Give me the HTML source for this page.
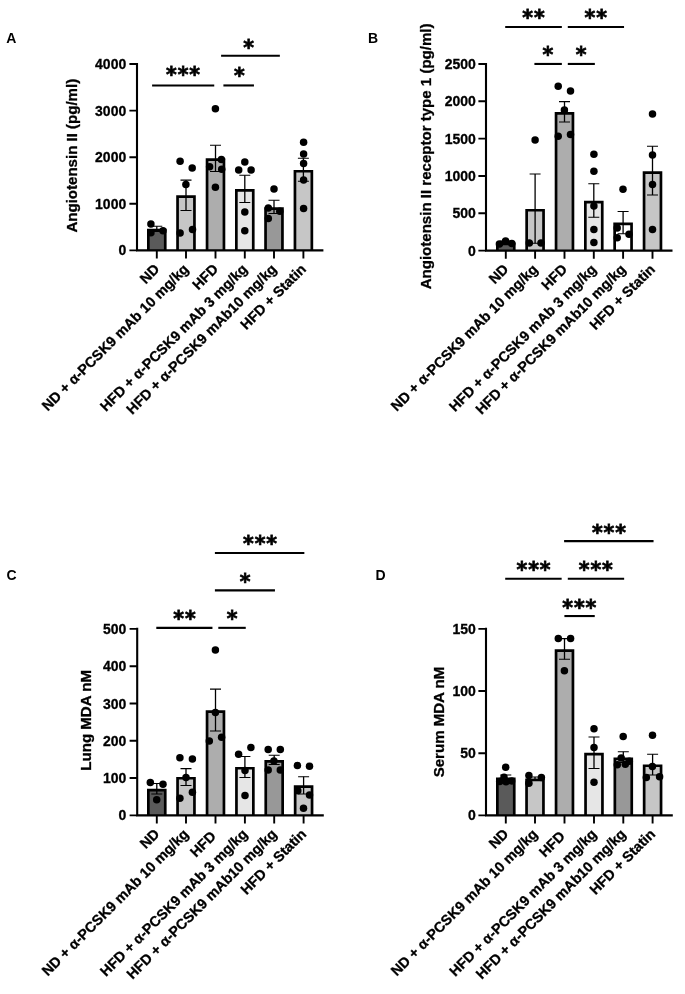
<!DOCTYPE html>
<html lang="en">
<head>
<meta charset="utf-8">
<title>Figure</title>
<style>
html,body{margin:0;padding:0;background:#fff;}
body{width:685px;height:994px;overflow:hidden;}
svg{display:block;}
text{font-family:'Liberation Sans', Arial, Helvetica, sans-serif;font-weight:bold;fill:#000;stroke:#000;stroke-width:0.3px;}
.pl{font-size:14px;stroke:none;}
.tk{font-size:14.0px;text-anchor:end;}
.ti{font-size:15.05px;text-anchor:middle;}
.xl{font-size:14.35px;text-anchor:end;}
.st{font-family:'DejaVu Sans','Liberation Sans',sans-serif;font-size:22.0px;text-anchor:middle;letter-spacing:0.97px;stroke:#000;stroke-width:0.8px;stroke-linejoin:miter;}
.bar{stroke:#000;stroke-width:2.7;stroke-linejoin:miter;}
.err{stroke:#000;stroke-width:1.3;fill:none;}
.cap{stroke:#000;stroke-width:1.05;fill:none;}
.axis{stroke:#000;stroke-width:2.1;fill:none;}
.tick{stroke:#000;stroke-width:1.9000000000000001;fill:none;}
.sig{stroke:#000;stroke-width:2.1;fill:none;}
circle{fill:#000;}
</style>
</head>
<body>
<svg width="685" height="994" viewBox="0 0 685 994">
<rect x="0" y="0" width="685" height="994" fill="#ffffff"/>
<g class="panel">
<text class="pl" x="6.2" y="43.2">A</text>
<path class="bar" d="M148.35 250.4V230.15H165.25V250.4" fill="#5a5a5a"/>
<path class="bar" d="M177.55 250.4V196.55H194.45V250.4" fill="#c6c6c6"/>
<path class="bar" d="M207.05 250.4V159.55H223.95V250.4" fill="#adadad"/>
<path class="bar" d="M236.35 250.4V190.35H253.25V250.4" fill="#e6e6e6"/>
<path class="bar" d="M265.55 250.4V208.55H282.45V250.4" fill="#989898"/>
<path class="bar" d="M294.95 250.4V171.25H311.85V250.4" fill="#c6c6c6"/>
<path class="err" d="M156.8 226.3V231.5"/><path class="cap" d="M151.3 226.3H162.3M151.3 231.5H162.3"/>
<path class="err" d="M186 180.1V210.5"/><path class="cap" d="M180.5 180.1H191.5M180.5 210.5H191.5"/>
<path class="err" d="M215.5 145.3V171.4"/><path class="cap" d="M210 145.3H221M210 171.4H221"/>
<path class="err" d="M244.8 175.2V202.5"/><path class="cap" d="M239.3 175.2H250.3M239.3 202.5H250.3"/>
<path class="err" d="M274 200.3V213.4"/><path class="cap" d="M268.5 200.3H279.5M268.5 213.4H279.5"/>
<path class="err" d="M303.4 158.2V181.3"/><path class="cap" d="M297.9 158.2H308.9M297.9 181.3H308.9"/>
<circle cx="150.9" cy="223.9" r="3.75"/>
<circle cx="163" cy="230.7" r="3.75"/>
<circle cx="150.9" cy="232.7" r="3.75"/>
<circle cx="180.1" cy="161.3" r="3.75"/>
<circle cx="192.2" cy="167.9" r="3.75"/>
<circle cx="185.9" cy="184.5" r="3.75"/>
<circle cx="192.5" cy="229.5" r="3.75"/>
<circle cx="180.1" cy="233.1" r="3.75"/>
<circle cx="215.4" cy="108.7" r="3.75"/>
<circle cx="221.4" cy="159.4" r="3.75"/>
<circle cx="209.6" cy="166.7" r="3.75"/>
<circle cx="221.7" cy="169.3" r="3.75"/>
<circle cx="215.4" cy="187.2" r="3.75"/>
<circle cx="244.8" cy="162" r="3.75"/>
<circle cx="238.7" cy="169.9" r="3.75"/>
<circle cx="251.1" cy="169.9" r="3.75"/>
<circle cx="244.8" cy="212" r="3.75"/>
<circle cx="244.8" cy="230.7" r="3.75"/>
<circle cx="274" cy="189" r="3.75"/>
<circle cx="268.3" cy="208" r="3.75"/>
<circle cx="279.8" cy="211.2" r="3.75"/>
<circle cx="268.3" cy="218.5" r="3.75"/>
<circle cx="303.6" cy="142.3" r="3.75"/>
<circle cx="303.6" cy="153.9" r="3.75"/>
<circle cx="303.6" cy="163.4" r="3.75"/>
<circle cx="303.6" cy="179.9" r="3.75"/>
<circle cx="303.6" cy="208.6" r="3.75"/>
<path class="axis" d="M137 62.95V250.4M135.95 250.4H323.4"/>
<text class="tk" transform="translate(126.2 255.44) scale(1 1.025)">0</text>
<text class="tk" transform="translate(126.2 208.84) scale(1 1.025)">1000</text>
<text class="tk" transform="translate(126.2 162.24) scale(1 1.025)">2000</text>
<text class="tk" transform="translate(126.2 115.64) scale(1 1.025)">3000</text>
<text class="tk" transform="translate(126.2 69.04) scale(1 1.025)">4000</text>
<path class="tick" d="M129.4 250.4H137M129.4 203.8H137M129.4 157.2H137M129.4 110.6H137M129.4 64H137M156.8 250.4V258.6M186 250.4V258.6M215.5 250.4V258.6M244.8 250.4V258.6M274 250.4V258.6M303.4 250.4V258.6"/>
<text class="ti" transform="translate(76.5 155.7) rotate(-90)">Angiotensin II (pg/ml)</text>
<text class="xl" transform="translate(160.3 270) rotate(-45)">ND</text>
<text class="xl" transform="translate(189.5 270) rotate(-45)">ND + α-PCSK9 mAb 10 mg/kg</text>
<text class="xl" transform="translate(219 270) rotate(-45)">HFD</text>
<text class="xl" transform="translate(248.3 270) rotate(-45)">HFD + α-PCSK9 mAb 3 mg/kg</text>
<text class="xl" transform="translate(277.5 270) rotate(-45)">HFD + α-PCSK9 mAb10 mg/kg</text>
<text class="xl" transform="translate(306.9 270) rotate(-45)">HFD + Statin</text>
<path class="sig" d="M152.1 85.45H214.25"/>
<text class="st" transform="translate(183.55 82.22) scale(0.933 1)">***</text>
<path class="sig" d="M223.4 85.45H253.95"/>
<text class="st" transform="translate(239.75 82.72) scale(0.933 1)">*</text>
<path class="sig" d="M221.1 55.75H279.85"/>
<text class="st" transform="translate(249.05 54.82) scale(0.933 1)">*</text>
</g>
<g class="panel">
<text class="pl" x="368" y="43.2">B</text>
<path class="bar" d="M497.35 250.6V243.85H514.25V250.6" fill="#5a5a5a"/>
<path class="bar" d="M526.65 250.6V210.25H543.55V250.6" fill="#c6c6c6"/>
<path class="bar" d="M556.05 250.6V113.35H572.95V250.6" fill="#adadad"/>
<path class="bar" d="M585.35 250.6V202.15H602.25V250.6" fill="#e6e6e6"/>
<path class="bar" d="M614.65 250.6V223.85H631.55V250.6" fill="#ffffff"/>
<path class="bar" d="M644.05 250.6V172.65H660.95V250.6" fill="#c6c6c6"/>
<path class="err" d="M505.8 241V244.5"/><path class="cap" d="M500.3 241H511.3M500.3 244.5H511.3"/>
<path class="err" d="M535.1 174V243.3"/><path class="cap" d="M529.6 174H540.6M529.6 243.3H540.6"/>
<path class="err" d="M564.5 101.6V121.9"/><path class="cap" d="M559 101.6H570M559 121.9H570"/>
<path class="err" d="M593.8 183.7V217.3"/><path class="cap" d="M588.3 183.7H599.3M588.3 217.3H599.3"/>
<path class="err" d="M623.1 211.5V233.8"/><path class="cap" d="M617.6 211.5H628.6M617.6 233.8H628.6"/>
<path class="err" d="M652.5 146.2V195"/><path class="cap" d="M647 146.2H658M647 195H658"/>
<circle cx="499.4" cy="244.1" r="3.75"/>
<circle cx="505.6" cy="241" r="3.75"/>
<circle cx="511.8" cy="243.5" r="3.75"/>
<circle cx="535.1" cy="140" r="3.75"/>
<circle cx="529.3" cy="243.1" r="3.75"/>
<circle cx="541" cy="243.1" r="3.75"/>
<circle cx="558.2" cy="86.2" r="3.75"/>
<circle cx="570.5" cy="90.9" r="3.75"/>
<circle cx="564.4" cy="110.1" r="3.75"/>
<circle cx="558.2" cy="136.3" r="3.75"/>
<circle cx="570.5" cy="134.6" r="3.75"/>
<circle cx="593.9" cy="154.2" r="3.75"/>
<circle cx="593.9" cy="171.3" r="3.75"/>
<circle cx="593.9" cy="206" r="3.75"/>
<circle cx="593.9" cy="229.5" r="3.75"/>
<circle cx="593.9" cy="242.5" r="3.75"/>
<circle cx="623" cy="189.3" r="3.75"/>
<circle cx="617.2" cy="228" r="3.75"/>
<circle cx="629" cy="234.2" r="3.75"/>
<circle cx="617.2" cy="237.7" r="3.75"/>
<circle cx="652.5" cy="114" r="3.75"/>
<circle cx="652.5" cy="155" r="3.75"/>
<circle cx="652.5" cy="184.5" r="3.75"/>
<circle cx="652.5" cy="229.5" r="3.75"/>
<path class="axis" d="M486 62.95V250.6M484.95 250.6H672.5"/>
<text class="tk" transform="translate(475.9 255.64) scale(1 1.025)">0</text>
<text class="tk" transform="translate(475.9 218.32) scale(1 1.025)">500</text>
<text class="tk" transform="translate(475.9 181) scale(1 1.025)">1000</text>
<text class="tk" transform="translate(475.9 143.68) scale(1 1.025)">1500</text>
<text class="tk" transform="translate(475.9 106.36) scale(1 1.025)">2000</text>
<text class="tk" transform="translate(475.9 69.04) scale(1 1.025)">2500</text>
<path class="tick" d="M478.4 250.6H486M478.4 213.28H486M478.4 175.96H486M478.4 138.64H486M478.4 101.32H486M478.4 64H486M505.8 250.6V258.8M535.1 250.6V258.8M564.5 250.6V258.8M593.8 250.6V258.8M623.1 250.6V258.8M652.5 250.6V258.8"/>
<text class="ti" transform="translate(431.3 156.4) rotate(-90)">Angiotensin II receptor type 1 (pg/ml)</text>
<text class="xl" transform="translate(509.3 270.2) rotate(-45)">ND</text>
<text class="xl" transform="translate(538.6 270.2) rotate(-45)">ND + α-PCSK9 mAb 10 mg/kg</text>
<text class="xl" transform="translate(568 270.2) rotate(-45)">HFD</text>
<text class="xl" transform="translate(597.3 270.2) rotate(-45)">HFD + α-PCSK9 mAb 3 mg/kg</text>
<text class="xl" transform="translate(626.6 270.2) rotate(-45)">HFD + α-PCSK9 mAb10 mg/kg</text>
<text class="xl" transform="translate(656 270.2) rotate(-45)">HFD + Statin</text>
<path class="sig" d="M505.2 27.05H561.85"/>
<text class="st" transform="translate(533.95 25.02) scale(0.933 1)">**</text>
<path class="sig" d="M567.8 27.05H624.05"/>
<text class="st" transform="translate(596.15 25.02) scale(0.933 1)">**</text>
<path class="sig" d="M534.4 63.95H561.85"/>
<text class="st" transform="translate(548.35 62.32) scale(0.933 1)">*</text>
<path class="sig" d="M567.8 63.95H594.85"/>
<text class="st" transform="translate(581.55 62.32) scale(0.933 1)">*</text>
</g>
<g class="panel">
<text class="pl" x="6.4" y="579.6">C</text>
<path class="bar" d="M148.35 815.35V790.05H165.25V815.35" fill="#5a5a5a"/>
<path class="bar" d="M177.55 815.35V778.25H194.45V815.35" fill="#c6c6c6"/>
<path class="bar" d="M207.05 815.35V711.65H223.95V815.35" fill="#adadad"/>
<path class="bar" d="M236.45 815.35V768.25H253.35V815.35" fill="#e6e6e6"/>
<path class="bar" d="M265.75 815.35V761.35H282.65V815.35" fill="#989898"/>
<path class="bar" d="M295.15 815.35V786.65H312.05V815.35" fill="#c6c6c6"/>
<path class="err" d="M156.8 783.4V794"/><path class="cap" d="M151.3 783.4H162.3M151.3 794H162.3"/>
<path class="err" d="M186 768.6V785.5"/><path class="cap" d="M180.5 768.6H191.5M180.5 785.5H191.5"/>
<path class="err" d="M215.5 689.1V731"/><path class="cap" d="M210 689.1H221M210 731H221"/>
<path class="err" d="M244.9 756.4V777.5"/><path class="cap" d="M239.4 756.4H250.4M239.4 777.5H250.4"/>
<path class="err" d="M274.2 755.3V764.4"/><path class="cap" d="M268.7 755.3H279.7M268.7 764.4H279.7"/>
<path class="err" d="M303.6 776.7V794"/><path class="cap" d="M298.1 776.7H309.1M298.1 794H309.1"/>
<circle cx="150.3" cy="782.4" r="3.75"/>
<circle cx="163" cy="784.3" r="3.75"/>
<circle cx="156.7" cy="799.7" r="3.75"/>
<circle cx="179.9" cy="757.8" r="3.75"/>
<circle cx="192.4" cy="758.9" r="3.75"/>
<circle cx="186" cy="777.5" r="3.75"/>
<circle cx="192.4" cy="792.3" r="3.75"/>
<circle cx="179.9" cy="798.2" r="3.75"/>
<circle cx="215.4" cy="650" r="3.75"/>
<circle cx="215.4" cy="712.4" r="3.75"/>
<circle cx="221.6" cy="737.3" r="3.75"/>
<circle cx="209.3" cy="740.9" r="3.75"/>
<circle cx="250.9" cy="747.5" r="3.75"/>
<circle cx="238.6" cy="754.2" r="3.75"/>
<circle cx="245" cy="770.5" r="3.75"/>
<circle cx="245" cy="795.5" r="3.75"/>
<circle cx="268.2" cy="749.4" r="3.75"/>
<circle cx="280.3" cy="749.6" r="3.75"/>
<circle cx="273.9" cy="761" r="3.75"/>
<circle cx="268.2" cy="770.1" r="3.75"/>
<circle cx="280.3" cy="770.1" r="3.75"/>
<circle cx="297.4" cy="765.5" r="3.75"/>
<circle cx="309.5" cy="766.3" r="3.75"/>
<circle cx="297.8" cy="790.8" r="3.75"/>
<circle cx="309.5" cy="795.1" r="3.75"/>
<circle cx="303.5" cy="808.2" r="3.75"/>
<path class="axis" d="M137.2 627.85V815.35M136.15 815.35H323.8"/>
<text class="tk" transform="translate(126.4 820.39) scale(1 1.025)">0</text>
<text class="tk" transform="translate(126.4 783.1) scale(1 1.025)">100</text>
<text class="tk" transform="translate(126.4 745.81) scale(1 1.025)">200</text>
<text class="tk" transform="translate(126.4 708.52) scale(1 1.025)">300</text>
<text class="tk" transform="translate(126.4 671.23) scale(1 1.025)">400</text>
<text class="tk" transform="translate(126.4 633.94) scale(1 1.025)">500</text>
<path class="tick" d="M129.6 815.35H137.2M129.6 778.06H137.2M129.6 740.77H137.2M129.6 703.48H137.2M129.6 666.19H137.2M129.6 628.9H137.2M156.8 815.35V823.55M186 815.35V823.55M215.5 815.35V823.55M244.9 815.35V823.55M274.2 815.35V823.55M303.6 815.35V823.55"/>
<text class="ti" transform="translate(90.7 720.35) rotate(-90)">Lung MDA nM</text>
<text class="xl" transform="translate(160.3 834.95) rotate(-45)">ND</text>
<text class="xl" transform="translate(189.5 834.95) rotate(-45)">ND + α-PCSK9 mAb 10 mg/kg</text>
<text class="xl" transform="translate(216.8 837.15) rotate(-45)">HFD</text>
<text class="xl" transform="translate(248.4 834.95) rotate(-45)">HFD + α-PCSK9 mAb 3 mg/kg</text>
<text class="xl" transform="translate(277.7 834.95) rotate(-45)">HFD + α-PCSK9 mAb10 mg/kg</text>
<text class="xl" transform="translate(307.1 834.95) rotate(-45)">HFD + Statin</text>
<path class="sig" d="M214.9 552.95H304.35"/>
<text class="st" transform="translate(260.45 551.32) scale(0.933 1)">***</text>
<path class="sig" d="M214.9 590.35H274.95"/>
<text class="st" transform="translate(245.55 588.82) scale(0.933 1)">*</text>
<path class="sig" d="M156.3 627.85H212.45"/>
<text class="st" transform="translate(184.95 626.42) scale(0.933 1)">**</text>
<path class="sig" d="M218.3 627.85H245.75"/>
<text class="st" transform="translate(232.45 626.42) scale(0.933 1)">*</text>
</g>
<g class="panel">
<text class="pl" x="375.6" y="579.6">D</text>
<path class="bar" d="M497.35 815.35V778.85H514.25V815.35" fill="#5a5a5a"/>
<path class="bar" d="M526.55 815.35V779.95H543.45V815.35" fill="#c6c6c6"/>
<path class="bar" d="M556.05 815.35V650.55H572.95V815.35" fill="#adadad"/>
<path class="bar" d="M585.55 815.35V754.15H602.45V815.35" fill="#e6e6e6"/>
<path class="bar" d="M614.85 815.35V758.75H631.75V815.35" fill="#989898"/>
<path class="bar" d="M644.15 815.35V765.75H661.05V815.35" fill="#c6c6c6"/>
<path class="err" d="M505.8 775V780"/><path class="cap" d="M500.3 775H511.3M500.3 780H511.3"/>
<path class="err" d="M535 776.9V780.3"/><path class="cap" d="M529.5 776.9H540.5M529.5 780.3H540.5"/>
<path class="err" d="M564.5 638.6V659.3"/><path class="cap" d="M559 638.6H570M559 659.3H570"/>
<path class="err" d="M594 736.9V768.4"/><path class="cap" d="M588.5 736.9H599.5M588.5 768.4H599.5"/>
<path class="err" d="M623.3 751.7V762.5"/><path class="cap" d="M617.8 751.7H628.8M617.8 762.5H628.8"/>
<path class="err" d="M652.6 754.2V775"/><path class="cap" d="M647.1 754.2H658.1M647.1 775H658.1"/>
<circle cx="505.7" cy="767.2" r="3.75"/>
<circle cx="504" cy="777.2" r="3.75"/>
<circle cx="499.7" cy="781.5" r="3.75"/>
<circle cx="511.6" cy="780.9" r="3.75"/>
<circle cx="506" cy="781.8" r="3.75"/>
<circle cx="528.9" cy="775.4" r="3.75"/>
<circle cx="541.4" cy="777.5" r="3.75"/>
<circle cx="528.9" cy="783.2" r="3.75"/>
<circle cx="558.3" cy="638.4" r="3.75"/>
<circle cx="570.6" cy="638.4" r="3.75"/>
<circle cx="564.4" cy="670.7" r="3.75"/>
<circle cx="594" cy="728.7" r="3.75"/>
<circle cx="594" cy="747.5" r="3.75"/>
<circle cx="594" cy="782.2" r="3.75"/>
<circle cx="623.2" cy="736.5" r="3.75"/>
<circle cx="621.2" cy="758.1" r="3.75"/>
<circle cx="617.3" cy="764.7" r="3.75"/>
<circle cx="625.3" cy="764.3" r="3.75"/>
<circle cx="629.3" cy="761.3" r="3.75"/>
<circle cx="652.5" cy="735.3" r="3.75"/>
<circle cx="652.4" cy="766.4" r="3.75"/>
<circle cx="646.3" cy="777.4" r="3.75"/>
<circle cx="659.6" cy="776.8" r="3.75"/>
<path class="axis" d="M486 627.85V815.35M484.95 815.35H672.8"/>
<text class="tk" transform="translate(475.8 820.39) scale(1 1.025)">0</text>
<text class="tk" transform="translate(475.8 758.24) scale(1 1.025)">50</text>
<text class="tk" transform="translate(475.8 696.09) scale(1 1.025)">100</text>
<text class="tk" transform="translate(475.8 633.94) scale(1 1.025)">150</text>
<path class="tick" d="M478.4 815.35H486M478.4 753.2H486M478.4 691.05H486M478.4 628.9H486M505.8 815.35V823.55M535 815.35V823.55M564.5 815.35V823.55M594 815.35V823.55M623.3 815.35V823.55M652.6 815.35V823.55"/>
<text class="ti" transform="translate(444 722) rotate(-90)">Serum MDA nM</text>
<text class="xl" transform="translate(509.3 834.95) rotate(-45)">ND</text>
<text class="xl" transform="translate(538.5 834.95) rotate(-45)">ND + α-PCSK9 mAb 10 mg/kg</text>
<text class="xl" transform="translate(565.8 837.15) rotate(-45)">HFD</text>
<text class="xl" transform="translate(597.5 834.95) rotate(-45)">HFD + α-PCSK9 mAb 3 mg/kg</text>
<text class="xl" transform="translate(626.8 834.95) rotate(-45)">HFD + α-PCSK9 mAb10 mg/kg</text>
<text class="xl" transform="translate(656.1 834.95) rotate(-45)">HFD + Statin</text>
<path class="sig" d="M564.1 541.15H653.55"/>
<text class="st" transform="translate(609.35 540.02) scale(0.933 1)">***</text>
<path class="sig" d="M505.2 578.75H561.65"/>
<text class="st" transform="translate(533.95 577.02) scale(0.933 1)">***</text>
<path class="sig" d="M567.8 578.75H624.15"/>
<text class="st" transform="translate(596.25 577.02) scale(0.933 1)">***</text>
<path class="sig" d="M564.4 616.05H594.75"/>
<text class="st" transform="translate(579.75 614.82) scale(0.933 1)">***</text>
</g>
</svg>
</body>
</html>
